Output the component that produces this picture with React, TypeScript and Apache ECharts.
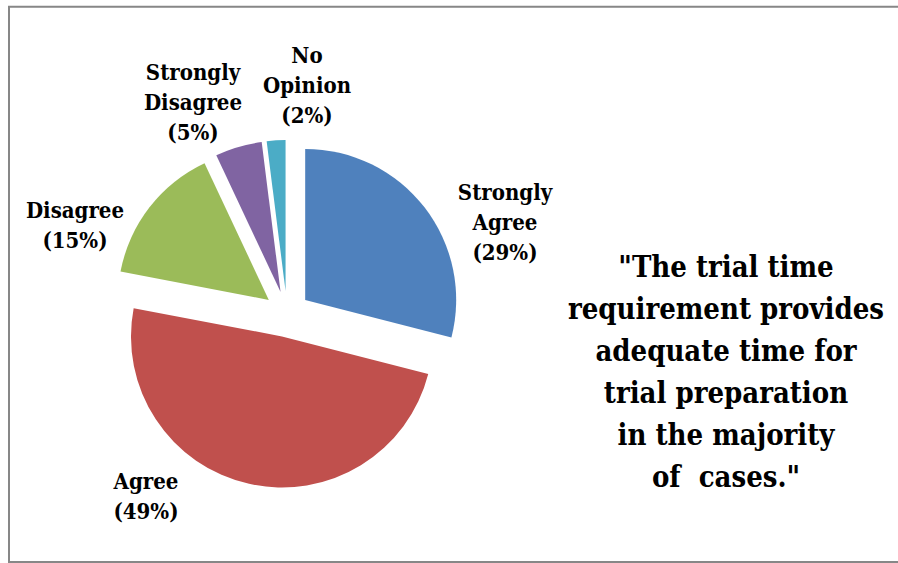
import React, { useEffect, useRef } from 'react';
import * as echarts from 'echarts';

const categories = ['Strongly Agree', 'Agree', 'Disagree', 'Strongly Disagree', 'No Opinion'];
const labelNames = ['Strongly\nAgree', 'Agree', 'Disagree', 'Strongly\nDisagree', 'No\nOpinion'];
const percentages = [29, 49, 15, 5, 2];
const colors = ['#4F81BD', '#C0504D', '#9BBB59', '#8064A2', '#4BACC6'];
const quoteLines = [
  '"The trial time',
  'requirement provides',
  'adequate time for',
  'trial preparation',
  'in the majority',
  'of  cases."',
];

// label placement relative to the pie centre (layout, not data)
const PIE_CX = 287;
const PIE_CY = 314;
const labelOffsets: number[][] = [
  [218, -92],
  [-141, 182],
  [-212, -89],
  [-94, -212],
  [20, -229],
];

const FONT = 'DejaVu Serif Condensed';

export default function App() {
  const ref = useRef<HTMLDivElement>(null);
  useEffect(() => {
    if (!ref.current) return;
    const chart = echarts.init(ref.current, null, { renderer: 'svg' });
    chart.setOption({
      animation: false,
      backgroundColor: '#ffffff',
      graphic: [
        {
          type: 'rect',
          shape: { x: 9, y: 6.7, width: 900, height: 555.3 },
          style: { fill: 'none', stroke: '#878787', lineWidth: 2 },
          silent: true,
        },
        {
          type: 'text',
          x: 726,
          y: 372,
          style: {
            text: quoteLines.join('\n'),
            align: 'center',
            verticalAlign: 'middle',
            fontSize: 29,
            fontWeight: 'bold',
            fontFamily: FONT,
            lineHeight: 42,
            fill: '#000000',
          },
          silent: true,
        },
      ],
      series: [
        {
          type: 'pie',
          center: [PIE_CX, PIE_CY],
          radius: 151,
          startAngle: 90,
          clockwise: true,
          selectedMode: 'multiple',
          selectedOffset: 23,
          avoidLabelOverlap: false,
          emphasis: { disabled: true },
          silent: true,
          data: categories.map((n, i) => ({
            name: n,
            value: percentages[i],
            selected: true,
            itemStyle: { color: colors[i] },
          })),
          label: { show: false },
          labelLine: { show: false },
        },
        {
          type: 'pie',
          center: [PIE_CX, PIE_CY],
          radius: 151,
          startAngle: 90,
          clockwise: true,
          avoidLabelOverlap: false,
          emphasis: { disabled: true },
          silent: true,
          z: 3,
          data: categories.map((n, i) => ({
            name: n,
            value: percentages[i],
            itemStyle: { color: 'rgba(0,0,0,0)' },
          })),
          label: {
            show: true,
            position: 'outside',
            formatter: (p: any) => `${labelNames[p.dataIndex]}\n(${p.value}%)`,
            fontSize: 22,
            fontWeight: 'bold',
            fontFamily: FONT,
            lineHeight: 30,
            color: '#000000',
          },
          labelLine: { show: false },
          labelLayout: (params: any) => {
            const o = labelOffsets[params.dataIndex];
            return {
              x: PIE_CX + o[0],
              y: PIE_CY + o[1],
              align: 'center',
              verticalAlign: 'middle',
            };
          },
        },
      ],
    });
    return () => chart.dispose();
  }, []);
  return (
    <div
      ref={ref}
      style={{ position: 'fixed', left: 0, top: 0, width: 898, height: 563 }}
    />
  );
}
